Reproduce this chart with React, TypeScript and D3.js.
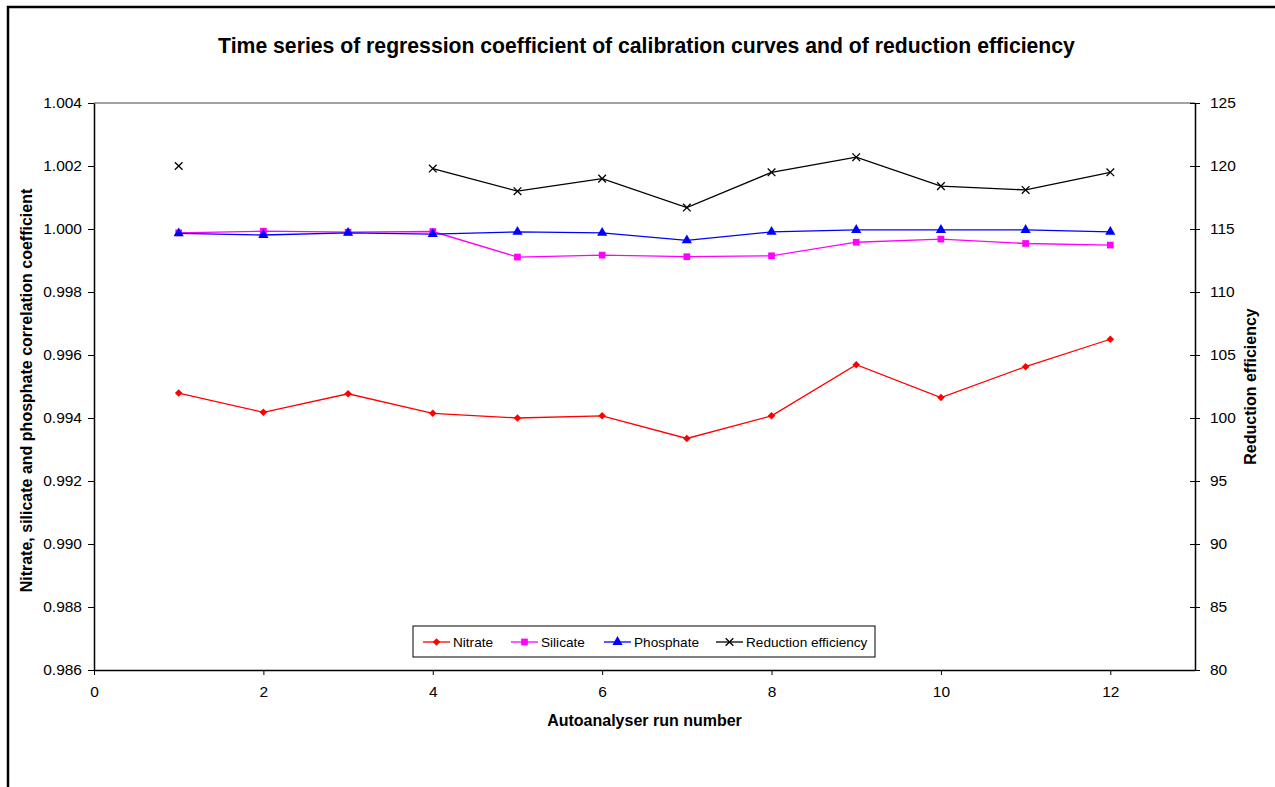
import { useEffect, useRef } from 'react';
import * as d3 from 'd3';

const runs = [1, 2, 3, 4, 5, 6, 7, 8, 9, 10, 11, 12];
const nitrate = [0.99479, 0.99418, 0.99477, 0.99415, 0.99400, 0.99407, 0.99335, 0.99407, 0.99569, 0.99465, 0.99563, 0.99650];
const silicate = [0.99988, 0.99993, 0.99990, 0.99992, 0.99911, 0.99917, 0.99912, 0.99915, 0.99958, 0.99968, 0.99954, 0.99949];
const phosphate = [0.99986, 0.99981, 0.99988, 0.99984, 0.99991, 0.99988, 0.99964, 0.99991, 0.99997, 0.99997, 0.99997, 0.99991];
const reduction: (number | null)[] = [120.0, null, null, 119.8, 118.0, 119.0, 116.7, 119.5, 120.7, 118.4, 118.1, 119.5];

const xTicks = [0, 2, 4, 6, 8, 10, 12];
const leftTicks = [0.986, 0.988, 0.99, 0.992, 0.994, 0.996, 0.998, 1.0, 1.002, 1.004];
const rightTicks = [80, 85, 90, 95, 100, 105, 110, 115, 120, 125];

const FONT = 'Arial, "Liberation Sans", sans-serif';

export default function App() {
  const svgRef = useRef<SVGSVGElement>(null);

  useEffect(() => {
    if (!svgRef.current) return;
    const svg = d3.select(svgRef.current);
    svg.selectAll('*').remove();

    const width = 1275;
    const height = 787;
    const plot = { left: 94, right: 1195, top: 103, bottom: 670 };

    svg.append('rect').attr('width', width).attr('height', height).attr('fill', '#fff');

    // outer chart border (runs off right and bottom)
    svg.append('path')
      .attr('d', `M8,${height + 5} L8,7 L${width + 5},7`)
      .attr('fill', 'none')
      .attr('stroke', '#000')
      .attr('stroke-width', 2.5);

    const x = d3.scaleLinear().domain([0, 13]).range([plot.left, plot.right]);
    const yL = d3.scaleLinear().domain([0.986, 1.004]).range([plot.bottom, plot.top]);
    const yR = d3.scaleLinear().domain([80, 125]).range([plot.bottom, plot.top]);

    // plot area top border
    svg.append('line')
      .attr('x1', plot.left).attr('x2', plot.right)
      .attr('y1', plot.top).attr('y2', plot.top)
      .attr('stroke', '#444').attr('stroke-width', 1);

    // Axes
    const styleAxis = (g: d3.Selection<SVGGElement, unknown, null, undefined>) => {
      g.select('.domain').attr('stroke', '#000').attr('stroke-width', 1.5);
      g.selectAll('.tick line').attr('stroke', '#000');
      g.selectAll('.tick text')
        .attr('fill', '#000')
        .style('font-family', FONT)
        .style('font-size', '15.5px');
    };

    svg.append('g')
      .attr('transform', `translate(0,${plot.bottom})`)
      .call(d3.axisBottom(x).tickValues(xTicks).tickSize(5).tickSizeOuter(0).tickPadding(11).tickFormat(d3.format('d')))
      .call(styleAxis);

    svg.append('g')
      .attr('transform', `translate(${plot.left},0)`)
      .call(d3.axisLeft(yL).tickValues(leftTicks).tickSize(6).tickSizeOuter(0).tickPadding(6).tickFormat(d3.format('.3f')))
      .call(styleAxis);

    const rAxis = svg.append('g')
      .attr('transform', `translate(${plot.right},0)`)
      .call(d3.axisRight(yR).tickValues(rightTicks).tickSize(5).tickSizeOuter(0).tickPadding(10).tickFormat(d3.format('d')))
      .call(styleAxis);
    rAxis.selectAll('.tick line').attr('x1', -5);

    // Titles
    svg.append('text')
      .attr('x', (plot.left + plot.right) / 2 + 2)
      .attr('y', 53)
      .attr('text-anchor', 'middle')
      .style('font-family', FONT)
      .style('font-size', '21.2px')
      .style('font-weight', 'bold')
      .text('Time series of regression coefficient of calibration curves and of reduction efficiency');

    svg.append('text')
      .attr('x', (plot.left + plot.right) / 2)
      .attr('y', 726)
      .attr('text-anchor', 'middle')
      .style('font-family', FONT)
      .style('font-size', '16px')
      .style('font-weight', 'bold')
      .text('Autoanalyser run number');

    svg.append('text')
      .attr('transform', `translate(32,${(plot.top + plot.bottom) / 2 + 4}) rotate(-90)`)
      .attr('text-anchor', 'middle')
      .style('font-family', FONT)
      .style('font-size', '16px')
      .style('font-weight', 'bold')
      .text('Nitrate, silicate and phosphate correlation coefficient');

    svg.append('text')
      .attr('transform', `translate(1256,${(plot.top + plot.bottom) / 2}) rotate(-90)`)
      .attr('text-anchor', 'middle')
      .style('font-family', FONT)
      .style('font-size', '16px')
      .style('font-weight', 'bold')
      .text('Reduction efficiency');

    // Series
    const series = [
      { name: 'Nitrate', values: nitrate as (number | null)[], color: '#ff0000', symbol: d3.symbolDiamond2, size: 36, y: yL },
      { name: 'Silicate', values: silicate as (number | null)[], color: '#ff00ff', symbol: d3.symbolSquare, size: 45, y: yL },
      { name: 'Phosphate', values: phosphate as (number | null)[], color: '#0000ff', symbol: d3.symbolTriangle, size: 45, y: yL },
      { name: 'Reduction efficiency', values: reduction, color: '#000000', symbol: d3.symbolX, size: 40, y: yR },
    ];

    const drawMarker = (
      parent: d3.Selection<SVGGElement, unknown, null, undefined>,
      s: typeof series[number],
      cx: number,
      cy: number
    ) => {
      const p = parent.append('path')
        .attr('transform', `translate(${cx},${cy})`)
        .attr('d', d3.symbol(s.symbol, s.size)());
      if (s.symbol === d3.symbolX) {
        p.attr('fill', 'none').attr('stroke', s.color).attr('stroke-width', 1.3);
      } else {
        p.attr('fill', s.color).attr('stroke', 'none');
      }
    };

    const g = svg.append('g');
    series.forEach(s => {
      const pts = runs.map((r, i) => ({ r, v: s.values[i] }));
      const line = d3.line<{ r: number; v: number | null }>()
        .defined(d => d.v !== null)
        .x(d => x(d.r))
        .y(d => s.y(d.v as number));
      g.append('path')
        .datum(pts)
        .attr('fill', 'none')
        .attr('stroke', s.color)
        .attr('stroke-width', 1.3)
        .attr('d', line);
      pts.filter(d => d.v !== null).forEach(d => drawMarker(g, s, x(d.r), s.y(d.v as number)));
    });

    // Legend
    const legend = svg.append('g');
    legend.append('rect')
      .attr('x', 413).attr('y', 626)
      .attr('width', 462).attr('height', 31)
      .attr('fill', '#fff')
      .attr('stroke', '#000')
      .attr('stroke-width', 1);

    const legendX = [423, 511, 604, 716];
    series.forEach((s, i) => {
      const lx = legendX[i];
      legend.append('line')
        .attr('x1', lx).attr('x2', lx + 27)
        .attr('y1', 642).attr('y2', 642)
        .attr('stroke', s.color).attr('stroke-width', 1.3);
      drawMarker(legend, s, lx + 13.5, 642);
      legend.append('text')
        .attr('x', lx + 30)
        .attr('y', 647)
        .style('font-family', FONT)
        .style('font-size', '13.6px')
        .text(s.name);
    });
  }, []);

  return (
    <svg
      ref={svgRef}
      width="1275"
      height="787"
      style={{ position: 'absolute', left: 0, top: 0, display: 'block' }}
    ></svg>
  );
}
